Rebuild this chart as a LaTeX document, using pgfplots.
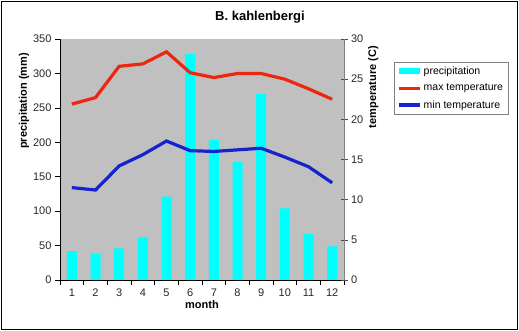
\documentclass[border=0pt]{standalone}
\usepackage{pgfplots}
\pgfplotsset{compat=1.18}
\usepackage{fontspec}
\setmainfont{Liberation Sans}
\definecolor{plotbg}{RGB}{192,192,192}
\definecolor{barcyan}{RGB}{0,255,255}
\definecolor{maxred}{RGB}{235,40,15}
\definecolor{minblue}{RGB}{20,35,205}
\begin{document}
\begin{tikzpicture}[x=1pt,y=1pt]
\path[use as bounding box] (0,0) rectangle (519,331);
\draw[line width=1pt] (1.5,1.5) rectangle (517,329.5);
\node[font=\bfseries\fontsize{13}{15}\selectfont] at (260,314) {B. kahlenbergi};
\begin{axis}[
  at={(60pt,51pt)}, anchor=south west,
  scale only axis, width=284pt, height=241pt,
  xmin=0.5, xmax=12.5, ymin=0, ymax=350,
  axis background/.style={fill=plotbg},
  axis x line*=bottom, axis y line*=left,
  axis line style={black, line width=0.8pt},
  xtick={1,...,12}, major x tick style={draw=none},
  minor xtick={0.5,1.5,...,12.5},
  minor x tick style={black, line width=0.6pt},
  minor tick length=5pt,
  ytick={0,50,...,350},
  major tick length=5pt,
  tick align=outside,
  y tick style={black, line width=0.6pt},
  ticklabel style={font=\fontsize{11}{13}\selectfont, text=black!85},
  /pgf/number format/assume math mode=true,
  xlabel={month}, ylabel={precipitation (mm)},
  label style={font=\bfseries\fontsize{11}{13}\selectfont},
  xlabel style={yshift=3pt},
  ylabel style={at={(ticklabel cs:0.743)}, yshift=-3pt},
]
\addplot[ybar, bar width=10pt, fill=barcyan, draw=none] coordinates {
(1,42) (2,38) (3,46) (4,62) (5,121) (6,328) (7,204) (8,171) (9,270) (10,104) (11,67) (12,49)};
\end{axis}
\begin{axis}[
  at={(60pt,51pt)}, anchor=south west,
  scale only axis, width=284pt, height=241pt,
  xmin=0.5, xmax=12.5, ymin=0, ymax=30,
  axis x line=none, axis y line*=right,
  axis line style={gray, line width=0.8pt},
  ytick={0,5,...,30},
  major tick length=7pt,
  tick align=center,
  y tick style={black!70, line width=0.6pt},
  ticklabel style={font=\fontsize{11}{13}\selectfont, text=black!85},
  /pgf/number format/assume math mode=true,
  ylabel={temperature (C)},
  ylabel style={font=\bfseries\fontsize{11}{13}\selectfont, at={(ticklabel cs:0.80)}, yshift=2pt},
  legend style={at={(1.176,0.905)}, anchor=north west, draw=gray, fill=white,
    font=\fontsize{10.5}{12}\selectfont, row sep=4pt, inner sep=3pt, cells={anchor=west}},
  legend cell align=left,
]
\addlegendimage{area legend, fill=barcyan, draw=none, legend image code/.code={\fill[barcyan] (0,-0.08cm) rectangle (0.75cm,0.12cm);}}
\addlegendentry{precipitation}
\addplot[maxred, line width=3.2pt, legend image code/.code={\draw[maxred, line width=3.2pt] (0,0) -- (0.75cm,0);}] coordinates {
(1,21.9) (2,22.7) (3,26.6) (4,26.9) (5,28.4) (6,25.8) (7,25.2) (8,25.7) (9,25.7) (10,25.0) (11,23.8) (12,22.5)};
\addlegendentry{max temperature}
\addplot[minblue, line width=3.2pt, legend image code/.code={\draw[minblue, line width=3.2pt] (0,0) -- (0.75cm,0);}] coordinates {
(1,11.5) (2,11.2) (3,14.2) (4,15.6) (5,17.3) (6,16.1) (7,16.0) (8,16.2) (9,16.4) (10,15.3) (11,14.1) (12,12.1)};
\addlegendentry{min temperature}
\end{axis}
\end{tikzpicture}
\end{document}
